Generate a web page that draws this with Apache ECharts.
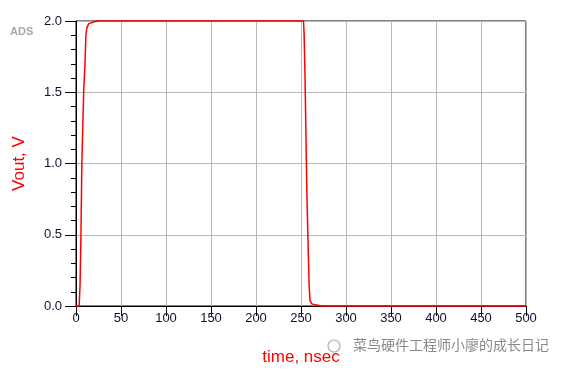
<!DOCTYPE html>
<html>
<head>
<meta charset="utf-8">
<script src="https://cdn.jsdelivr.net/npm/echarts@6/dist/echarts.min.js"></script>
<style>html,body{margin:0;padding:0;background:#fff}#c{width:566px;height:371px}</style>
</head>
<body>
<div id="c"></div>
<script>
var timeNs = [0, 3.5, 4.5, 5.5, 6.5, 8.5, 10, 11, 12, 14, 20, 25, 252.8, 253.5, 254.5, 255.5, 256.5, 258, 259, 260, 262, 266, 273, 500];
var vout   = [0, 0,   0.15, 0.5, 1.0, 1.5, 1.7, 1.9, 1.95, 1.98, 1.995, 2.0, 2.0, 1.9, 1.6, 1.2, 0.8, 0.4, 0.15, 0.04, 0.015, 0.008, 0, 0];
var xTicks = [0, 50, 100, 150, 200, 250, 300, 350, 400, 450, 500];
var yTicks = [0.0, 0.5, 1.0, 1.5, 2.0];

var pts = timeNs.map(function (t, i) { return [t, vout[i]]; });
var chart = echarts.init(document.getElementById('c'));
var fontFam = 'Liberation Sans, Arial, sans-serif';
chart.setOption({
  animation: false,
  backgroundColor: '#fff',
  grid: { left: 76, right: 40, top: 21, bottom: 65, show: true, borderColor: '#000', borderWidth: 1 },
  xAxis: {
    type: 'value', min: xTicks[0], max: xTicks[xTicks.length - 1], interval: 50,
    name: 'time, nsec', nameLocation: 'middle', nameGap: 43,
    nameTextStyle: { color: '#ff0000', fontSize: 17, fontFamily: fontFam },
    axisLine: { show: true, lineStyle: { color: '#000', width: 1 } },
    axisTick: { show: true, length: 10, lineStyle: { color: '#000' } },
    axisLabel: { color: '#101030', fontSize: 13, fontFamily: fontFam, margin: 6 },
    splitLine: { show: true, lineStyle: { color: '#b8b8b8', width: 1 } }
  },
  yAxis: {
    type: 'value', min: yTicks[0], max: yTicks[yTicks.length - 1], interval: 0.5,
    name: 'Vout, V', nameLocation: 'middle', nameGap: 48,
    nameTextStyle: { color: '#ff0000', fontSize: 17, fontFamily: fontFam },
    axisLine: { show: true, lineStyle: { color: '#000', width: 1 } },
    axisTick: { show: true, length: 11, lineStyle: { color: '#000' } },
    minorTick: { show: true, splitNumber: 5, length: 5, lineStyle: { color: '#000' } },
    axisLabel: { color: '#101030', fontSize: 13, fontFamily: fontFam, margin: 14,
      formatter: function (v) { return v.toFixed(1); } },
    splitLine: { show: true, lineStyle: { color: '#b8b8b8', width: 1 } }
  },
  graphic: [
    { type: 'text', left: 10, top: 26, style: { text: 'ADS', fill: '#a8a8a8', fontSize: 11, fontWeight: 'bold', fontFamily: fontFam } },
    { type: 'text', left: 352, top: 337, style: { text: '菜鸟硬件工程师小廖的成长日记', fill: '#8a8a8a', fontSize: 14, fontFamily: 'Noto Sans CJK SC', stroke: '#fff', lineWidth: 2 } },
    { type: 'circle', shape: { cx: 334, cy: 346, r: 6 }, style: { fill: 'none', stroke: '#b0b0b0', lineWidth: 1.2 } }
  ],
  series: [{
    type: 'line', data: pts, showSymbol: false, symbol: 'none',
    lineStyle: { color: '#ff0000', width: 1.5 }, clip: false
  }]
});
</script>
</body>
</html>
